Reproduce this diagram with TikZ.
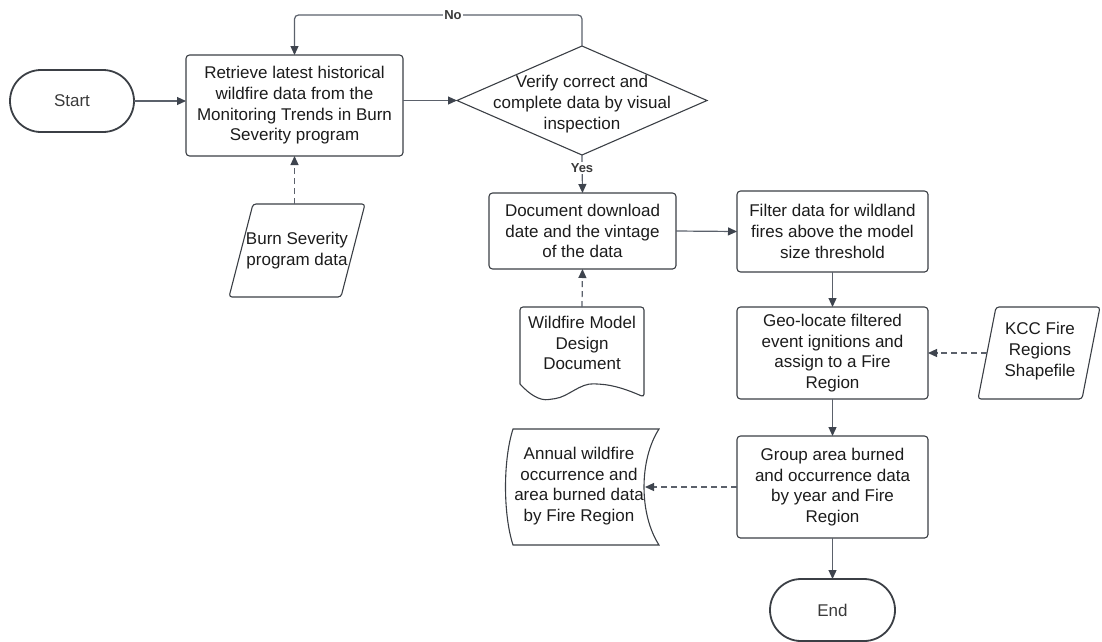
\documentclass[tikz,border=0pt]{standalone}
\usepackage{fontspec}
\setmainfont{Liberation Sans}
\usetikzlibrary{arrows.meta,calc,shapes.misc}
\definecolor{bordc}{HTML}{3B3F45}
\definecolor{connc}{HTML}{5B616B}
\definecolor{headc}{HTML}{3E444E}
\definecolor{txtc}{HTML}{1C1C1C}
\definecolor{termtxt}{HTML}{3A3A3A}
\definecolor{labc}{HTML}{3A3A3A}
\begin{document}
\begin{tikzpicture}[x=1pt,y=-1pt,
  txt/.style={font=\fontsize{17}{20.7}\selectfont, text=txtc, align=center, inner sep=0pt, outer sep=0pt},
  procbox/.style={txt, draw=bordc, line width=1.1pt, rounded corners=3.5pt, fill=white},
  ghost/.style={txt},
  outline/.style={draw=bordc, line width=1.1pt, rounded corners=3pt},
  termbox/.style={txt, rounded rectangle, draw=bordc, line width=1.8pt, text=termtxt},
  conn/.style={draw=connc, line width=1.2pt, -{Triangle[length=9pt,width=8pt,color=headc]}},
  dconn/.style={conn, dash pattern=on 6pt off 4pt},
  lab/.style={font=\bfseries\fontsize{13}{13}\selectfont, text=labc, fill=white, inner sep=1.5pt}]
\useasboundingbox (0,0) rectangle (1102,641);

% terminals
\node[termbox, minimum width=124pt, minimum height=62pt] (start) at (72,101) {Start};
\node[termbox, minimum width=125pt, minimum height=62pt] (end) at (832.5,610) {End};

% process boxes
\node[procbox, minimum width=217pt, minimum height=101pt] (retrieve) at (294.5,105.5)
  {Retrieve latest historical\\wildfire data from the\\Monitoring Trends in Burn\\Severity program};
\node[procbox, minimum width=187pt, minimum height=76pt] (doc) at (582.5,231)
  {Document download\\date and the vintage\\of the data};
\node[procbox, minimum width=191pt, minimum height=81pt] (filter) at (832.5,231.5)
  {Filter data for wildland\\fires above the model\\size threshold};
\node[procbox, minimum width=191pt, minimum height=92pt] (geo) at (832.5,353)
  {Geo-locate filtered\\event ignitions and\\assign to a Fire\\Region};
\node[procbox, minimum width=191pt, minimum height=102pt] (group) at (832.5,487)
  {Group area burned\\and occurrence data\\by year and Fire\\Region};

% decision
\node[ghost, minimum width=250pt, minimum height=109pt] (dia) at (582,100.5) {};
\draw[outline, rounded corners=0pt] (dia.north) -- (dia.east) -- (dia.south) -- (dia.west) -- cycle;
\node[txt] (diatext) at (582,104) {Verify correct and\\complete data by visual\\inspection};

% data (parallelograms)
\node[ghost, minimum width=136pt, minimum height=93pt] (burn) at (297,250.5) {Burn Severity\\program data};
\draw[outline] (229,297) -- (253,204) -- (365,204) -- (341,297) -- cycle;
\coordinate (burntop) at (294.5,204);
\node[ghost, minimum width=122pt, minimum height=92pt] (kcc) at (1040,351) {KCC Fire\\Regions\\Shapefile};
\draw[outline] (978,399) -- (996,307) -- (1100,307) -- (1082,399) -- cycle;
\coordinate (kccin) at (987,353);

% document shape
\node[ghost, minimum width=124pt, minimum height=72pt] (wmd) at (582,343) {Wildfire Model\\Design\\Document};
\draw[outline] (520,384) -- (520,307) -- (644,307) -- (644,397)
  .. controls (628,390) and (614,385) .. (597,384)
  .. controls (580,383) and (568,397) .. (552,399)
  .. controls (540,401) and (530,395) .. (520,384);

% stored data shape
\node[ghost, minimum width=154pt, minimum height=116pt] (annual) at (579,486)
  {Annual wildfire\\occurrence and\\area burned data\\by Fire Region};
\draw[draw=bordc, line width=1.1pt] (513,429) -- (659,429)
  .. controls (639,460) and (639,514) .. (659,545) -- (513,545)
  .. controls (503,514) and (503,460) .. (513,429) -- cycle;
\coordinate (annualin) at (645,487);

% connectors
\draw[conn] (start.east) -- (start.east -| retrieve.west);
\draw[conn] (dia.west -| retrieve.east) -- (dia.west);
\draw[conn, rounded corners=4pt] (dia.north) -- (582,15) -| (retrieve.north);
\node[lab] (nolab) at (453,15) {No};
\draw[conn] (dia.south) -- (doc.north);
\node[lab] (yeslab) at (582,168) {Yes};
\draw[dconn] (burntop) -- (retrieve.south);
\draw[conn] (doc.east) -- (filter.west);
\draw[dconn] (wmd.north) -- (doc.south);
\draw[conn] (filter.south) -- (geo.north);
\draw[dconn] (kccin) -- (geo.east);
\draw[conn] (geo.south) -- (group.north);
\draw[dconn] (group.west) -- (annualin);
\draw[conn] (group.south) -- (end.north);
\end{tikzpicture}
\end{document}
